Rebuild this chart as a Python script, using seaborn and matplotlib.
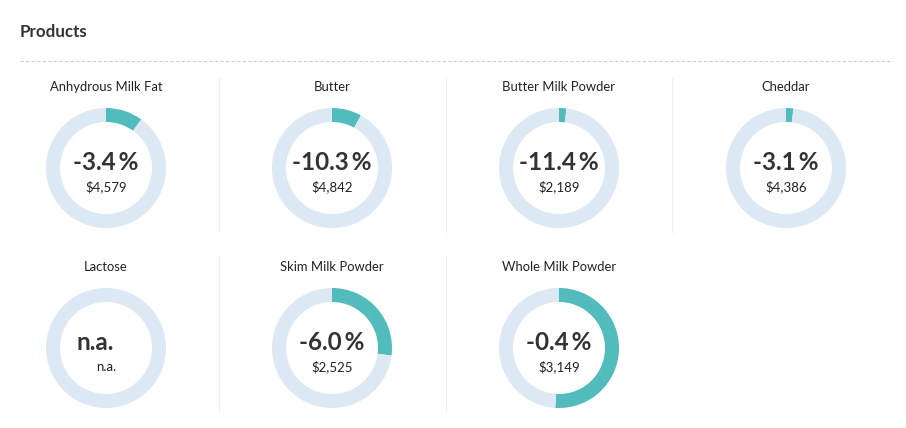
import matplotlib.pyplot as plt
import seaborn as sns

# Data
products = ["Anhydrous Milk Fat", "Butter", "Butter Milk Powder", "Cheddar",
            "Lactose", "Skim Milk Powder", "Whole Milk Powder"]
change_pct = [-3.4, -10.3, -11.4, -3.1, None, -6.0, -0.4]
prices = [4579, 4842, 2189, 4386, None, 2525, 3149]
share_pct = [10, 8, 2, 2, None, 27, 51]

sns.set_theme(style="white")
plt.rcParams['font.family'] = ['Lato', 'DejaVu Sans']

teal = "#52bcbc"
light = "#dde8f5"
dark = "#333333"

W, H = 906, 428
fig = plt.figure(figsize=(W / 100, H / 100), dpi=100)
fig.patch.set_facecolor("white")

# background axes in pixel coords for decorations
bg = fig.add_axes([0, 0, 1, 1])
bg.set_xlim(0, W)
bg.set_ylim(H, 0)
bg.axis("off")

bg.text(20, 32, "Products", fontsize=12.2, fontweight="bold", color=dark, va="center", ha="left")
bg.plot([20, 893], [61, 61], color="#cccccc", lw=0.8, ls=(0, (3, 2)))

col_x = [106, 332, 559, 786]
row_y = [168, 348]
radius = 60

# separators
for x in [219, 446, 672]:
    bg.plot([x, x], [78, 232], color="#eeeeee", lw=0.8)
for x in [219, 446]:
    bg.plot([x, x], [256, 412], color="#eeeeee", lw=0.8)

for i, name in enumerate(products):
    cx = col_x[i % 4]
    cy = row_y[i // 4]
    bg.text(cx, cy - 81, name, fontsize=9.4, color="#222222", ha="center", va="center")

    ax = fig.add_axes([(cx - radius) / W, 1 - (cy + radius) / H, 2 * radius / W, 2 * radius / H])
    share = share_pct[i]
    if share is None:
        vals, cols = [1], [light]
    else:
        vals, cols = [share, 100 - share], [teal, light]
    ax.pie(vals, colors=cols, startangle=90, counterclock=False,
           wedgeprops=dict(width=14 / radius, linewidth=0))
    ax.set_xlim(-1, 1)
    ax.set_ylim(-1, 1)
    ax.set_aspect("equal")
    ax.axis("off")

    if change_pct[i] is None:
        bg.text(cx - 11, cy - 5, "n.a.", fontsize=17.5, fontweight="bold", color=dark, ha="center", va="center")
        bg.text(cx, cy + 19, "n.a.", fontsize=9.5, color="#222222", ha="center", va="center")
    else:
        bg.text(cx, cy - 5, f"{change_pct[i]:.1f}\u2009%", fontsize=17.5, fontweight="bold", color=dark, ha="center", va="center")
        bg.text(cx, cy + 19, f"${prices[i]:,}", fontsize=9.5, color="#222222", ha="center", va="center")

fig.savefig("out.png", dpi=100, facecolor="white")
